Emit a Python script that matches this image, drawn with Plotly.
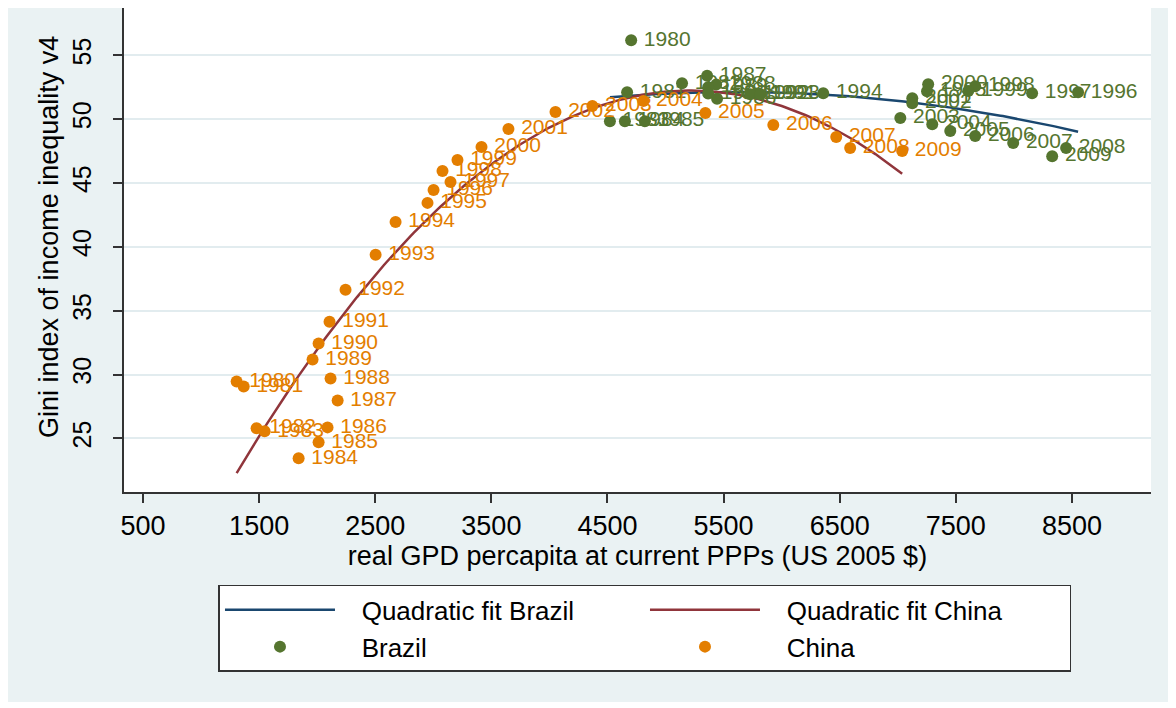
import numpy as np
import plotly.graph_objects as go

# ---- data ----
china_years = list(range(1980, 2010))
china_gdp = [1306, 1367, 1478, 1547, 1840, 2012, 2089, 2176, 2115, 1960,
             2012, 2106, 2244, 2503, 2675, 2950, 3002, 3148, 3079, 3208,
             3415, 3647, 4052, 4370, 4809, 5343, 5928, 6470, 6590, 7038]
china_gini = [29.45, 29.06, 25.80, 25.55, 23.44, 24.69, 25.86, 27.97, 29.69, 31.17,
              32.42, 34.14, 36.64, 39.38, 41.95, 43.44, 44.45, 45.08, 45.94, 46.80,
              47.81, 49.22, 50.55, 51.02, 51.41, 50.47, 49.53, 48.59, 47.73, 47.50]

brazil_years = list(range(1980, 2010))
brazil_gdp = [4704, 4669, 5142, 4521, 4650, 4822, 5444, 5358, 5436, 5367,
              5367, 5789, 5729, 5815, 6358, 7252, 8553, 8157, 7667, 7607,
              7262, 7125, 7125, 7022, 7297, 7452, 7667, 7994, 8450, 8330]
brazil_gini = [56.17, 52.10, 52.80, 49.84, 49.84, 49.84, 51.60, 53.40, 52.70, 52.50,
               52.00, 52.00, 51.95, 51.95, 52.03, 52.19, 52.10, 52.03, 52.58, 52.20,
               52.73, 51.64, 51.25, 50.08, 49.60, 49.06, 48.67, 48.13, 47.73, 47.10]

x_ticks = [500, 1500, 2500, 3500, 4500, 5500, 6500, 7500, 8500]
y_ticks = [25, 30, 35, 40, 45, 50, 55]

NAVY = "#1a476f"
MAROON = "#90353b"
GREEN = "#55752f"
ORANGE = "#e37e00"
BG = "#eaf2f3"
FONT = "Liberation Sans, Arial, sans-serif"
PAD = "\u00a0\u00a0\u00a0"


def qfit(x, y):
    c = np.polyfit(x, y, 2)
    xs = np.linspace(min(x), max(x), 200)
    return xs, np.polyval(c, xs)


bx, by = qfit(brazil_gdp, brazil_gini)
cx, cy = qfit(china_gdp, china_gini)

fig = go.Figure()
fig.add_trace(go.Scatter(x=bx, y=by, mode="lines", name=PAD + "Quadratic fit Brazil",
                         line=dict(color=NAVY, width=2.5)))
fig.add_trace(go.Scatter(x=cx, y=cy, mode="lines", name=PAD + "Quadratic fit China",
                         line=dict(color=MAROON, width=2.5)))
fig.add_trace(go.Scatter(x=brazil_gdp, y=brazil_gini, mode="markers+text", name=PAD + "Brazil",
                         text=["\u2009" + str(v) for v in brazil_years], textposition="middle right",
                         textfont=dict(color=GREEN, size=21, family=FONT),
                         marker=dict(color=GREEN, size=12)))
fig.add_trace(go.Scatter(x=china_gdp, y=china_gini, mode="markers+text", name=PAD + "China",
                         text=["\u2009" + str(v) for v in china_years], textposition="middle right",
                         textfont=dict(color=ORANGE, size=21, family=FONT),
                         marker=dict(color=ORANGE, size=12)))

fig.update_layout(
    width=1168, height=694,
    margin=dict(l=116, r=25, t=0, b=210, autoexpand=False),
    paper_bgcolor=BG, plot_bgcolor="white",
    font=dict(family=FONT, color="black", size=26),
    showlegend=True,
    legend=dict(orientation="h", x=0.092, xanchor="left", y=-0.192, yanchor="top",
                bgcolor="white", bordercolor="#333333", borderwidth=1.5,
                entrywidth=300, entrywidthmode="pixels", itemwidth=110,
                font=dict(size=26, family=FONT, color="black"),
                traceorder="normal"),
    annotations=[dict(text="Gini index of income inequality v4", textangle=-90,
                      xref="paper", yref="paper", x=-0.073, y=0.527,
                      xanchor="center", yanchor="middle", showarrow=False,
                      font=dict(size=27, family=FONT, color="black"))],
)

fig.update_xaxes(range=[336, 9181], tickvals=x_ticks, ticktext=[str(v) for v in x_ticks],
                 ticks="outside", ticklen=9, tickcolor="#333", tickwidth=1.5,
                 showline=True, linecolor="#333", linewidth=1.5, showgrid=False,
                 zeroline=False, tickfont=dict(size=27), automargin=False,
                 title=dict(text="real GPD percapita at current PPPs (US 2005 $)",
                            font=dict(size=27), standoff=0))
fig.update_yaxes(range=[20.8, 58.7], tickvals=y_ticks, ticktext=[str(v) for v in y_ticks],
                 ticks="outside", ticklen=9, tickcolor="#333", tickwidth=1.5, tickangle=-90,
                 ticklabelstandoff=12, automargin=False,
                 showline=True, linecolor="#333", linewidth=1.5,
                 showgrid=True, gridcolor="#e2ecef", gridwidth=1.5,
                 zeroline=False, tickfont=dict(size=25))

fig.write_html("out.html")
